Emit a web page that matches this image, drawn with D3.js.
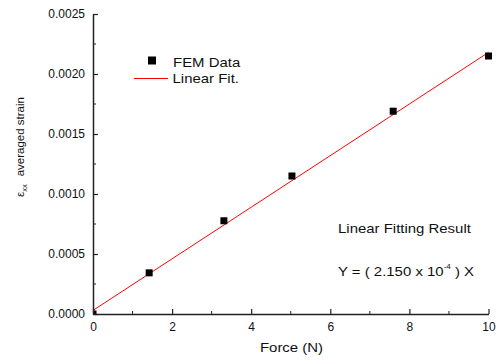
<!DOCTYPE html>
<html><head><meta charset="utf-8">
<script src="https://cdn.jsdelivr.net/npm/d3@7"></script>
<style>body{margin:0;background:#fff}svg{display:block;font-family:"Liberation Sans",Arial,sans-serif}</style>
</head><body>
<svg id="c" width="499" height="360"></svg>
<script>
const forceN = [0, 1.42, 3.31, 5.03, 7.59, 10];
const strain = [0, 0.000343, 0.000777, 0.00115, 0.00169, 0.00215];
const fitX = [0, 10];
const fitY = [0.00003, 0.00218];
const xTicks = [0, 2, 4, 6, 8, 10];
const xMinor = [1, 3, 5, 7, 9];
const yTicks = [0, 0.0005, 0.001, 0.0015, 0.002, 0.0025];
const yMinor = [0.00025, 0.00075, 0.00125, 0.00175, 0.00225];

const svg = d3.select("#c");
const x = d3.scaleLinear().domain([0, 10]).range([93, 488.5]);
const y = d3.scaleLinear().domain([0, 0.0025]).range([314, 14]);
const ink = "#222";
const SX = 1.15;

function stext(px, py, size, anchor) {
  return svg.append("g").attr("transform", `translate(${px},${py}) scale(${SX},1)`)
    .append("text").attr("font-size", size).attr("fill", "#111").attr("text-anchor", anchor || "start");
}

svg.append("defs").append("clipPath").attr("id","clip")
  .append("rect").attr("x",93).attr("y",0).attr("width",410).attr("height",314);

// fit line
svg.append("line").attr("clip-path","url(#clip)")
  .attr("x1",x(fitX[0])).attr("y1",y(fitY[0])).attr("x2",x(fitX[1])).attr("y2",y(fitY[1]))
  .attr("stroke","#ff0000").attr("stroke-width",1);

// points
svg.append("g").attr("clip-path","url(#clip)").selectAll("rect").data(forceN).join("rect")
  .attr("x",(d)=>x(d)-3.5).attr("y",(d,i)=>y(strain[i])-3.5).attr("width",7).attr("height",7).attr("fill","#000");

// x axis
const xa = svg.append("g").attr("transform","translate(0,314)")
  .call(d3.axisBottom(x).tickValues(xTicks).tickFormat(d3.format("d")).tickSizeInner(-5).tickSizeOuter(0).tickPadding(8));
xa.append("g").selectAll("line").data(xMinor).join("line")
  .attr("x1",d=>x(d)).attr("x2",d=>x(d)).attr("y1",0).attr("y2",-3).attr("stroke",ink);
// y axis
const ya = svg.append("g").attr("transform","translate(93,0)")
  .call(d3.axisLeft(y).tickValues(yTicks).tickFormat(d3.format(".4f")).tickSizeInner(-5).tickSizeOuter(0).tickPadding(8));
ya.append("g").selectAll("line").data(yMinor).join("line")
  .attr("y1",d=>y(d)).attr("y2",d=>y(d)).attr("x1",0).attr("x2",3).attr("stroke",ink);
[xa, ya].forEach(a => {
  a.select(".domain").attr("stroke",ink).attr("stroke-width",1.5);
  a.selectAll(".tick line").attr("stroke",ink).attr("stroke-width",1.2);
  a.selectAll("text").attr("font-size",12).attr("fill","#111").attr("font-family","Liberation Sans, Arial, sans-serif");
});
ya.selectAll(".tick text").attr("dy","0.32em");

// axis titles
stext(291.5, 352, 13, "middle").text("Force (N)");
const yl = svg.append("text").attr("transform","translate(24,147) rotate(-90)").attr("text-anchor","middle").attr("font-size",11.5).attr("fill","#111");
yl.append("tspan").text("ε");
yl.append("tspan").attr("font-size",7.5).attr("dy",3).text("xx");
yl.append("tspan").attr("dy",-3).attr("dx",8).text("averaged strain");

// legend
svg.append("rect").attr("x",148).attr("y",56.5).attr("width",8).attr("height",8).attr("fill","#000");
stext(173, 67, 13).text("FEM Data");
svg.append("line").attr("x1",134).attr("x2",168).attr("y1",78.5).attr("y2",78.5).attr("stroke","#ff0000").attr("stroke-width",1);
stext(172.5, 83, 13).text("Linear Fit.");

// annotation
stext(338, 233, 13).text("Linear Fitting Result");
const eq = stext(338, 276, 13);
eq.append("tspan").text("Y = ( 2.150 x 10");
eq.append("tspan").attr("font-size",7).attr("dy",-7).text("-4");
eq.append("tspan").attr("dy",7).text(" ) X");
</script>
</body></html>
